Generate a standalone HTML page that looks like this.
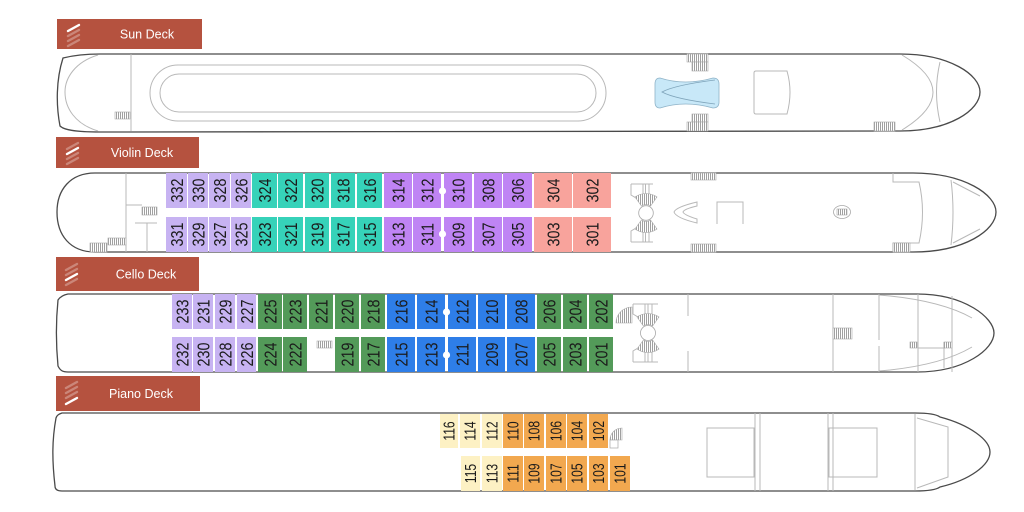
<!DOCTYPE html>
<html><head><meta charset="utf-8"><style>
html,body{margin:0;padding:0;background:#fff;}
svg{display:block;}
.n{font-family:"Liberation Sans",Arial,sans-serif;font-size:17.5px;text-anchor:middle;fill:#1b1b1b;}
.p{font-family:"Liberation Sans",Arial,sans-serif;font-size:15.5px;text-anchor:middle;fill:#1b1b1b;}
.lb{font-family:"Liberation Sans",Arial,sans-serif;font-size:12.5px;text-anchor:middle;fill:#fff;}
.hull{fill:#fff;stroke:#4a4a4a;stroke-width:1.3;}
.hull2{fill:none;stroke:#4a4a4a;stroke-width:1.3;}
.ln{fill:none;stroke:#b8b8b8;stroke-width:1;}
.st{fill:url(#hatch);stroke:#a8a8a8;stroke-width:.6;}
.L{fill:#c7b3f2}.T{fill:#36d2b9}.P{fill:#bf84f4}.S{fill:#f8a39c}.G{fill:#539a59}.B{fill:#2e7ee8}.Y{fill:#fdf1c4}.O{fill:#f2a84f}
</style></head><body>
<svg width="1024" height="512" viewBox="0 0 1024 512" xmlns="http://www.w3.org/2000/svg">
<defs>
<pattern id="hatch" width="2" height="2" patternUnits="userSpaceOnUse"><rect width="2" height="2" fill="#fff"/><rect width="1" height="2" fill="#a0a0a0"/></pattern>
</defs>

<!-- ===== LABELS ===== -->
<g>
<rect x="57" y="19" width="145" height="30" fill="#b5523f"/>
<g stroke-linecap="round" stroke-width="2.4">
<line x1="68" y1="31" x2="79" y2="25" stroke="#fff"/>
<line x1="68" y1="36" x2="79" y2="30" stroke="rgba(255,255,255,.3)"/>
<line x1="68" y1="41" x2="79" y2="35" stroke="rgba(255,255,255,.3)"/>
<line x1="68" y1="46" x2="79" y2="40" stroke="rgba(255,255,255,.3)"/>
</g>
<text class="lb" x="147" y="38.5">Sun Deck</text>

<rect x="56" y="137" width="143" height="31" fill="#b5523f"/>
<g stroke-linecap="round" stroke-width="2.4">
<line x1="67" y1="149" x2="78" y2="143" stroke="rgba(255,255,255,.3)"/>
<line x1="67" y1="154" x2="78" y2="148" stroke="#fff"/>
<line x1="67" y1="159" x2="78" y2="153" stroke="rgba(255,255,255,.3)"/>
<line x1="67" y1="164" x2="78" y2="158" stroke="rgba(255,255,255,.3)"/>
</g>
<text class="lb" x="142" y="157">Violin Deck</text>

<rect x="56" y="257" width="143" height="34" fill="#b5523f"/>
<g stroke-linecap="round" stroke-width="2.4">
<line x1="66" y1="270" x2="77" y2="264" stroke="rgba(255,255,255,.3)"/>
<line x1="66" y1="275" x2="77" y2="269" stroke="rgba(255,255,255,.3)"/>
<line x1="66" y1="280" x2="77" y2="274" stroke="#fff"/>
<line x1="66" y1="285" x2="77" y2="279" stroke="rgba(255,255,255,.3)"/>
</g>
<text class="lb" x="146" y="278.5">Cello Deck</text>

<rect x="56" y="376" width="144" height="35" fill="#b5523f"/>
<g stroke-linecap="round" stroke-width="2.4">
<line x1="66" y1="388" x2="77" y2="382" stroke="rgba(255,255,255,.3)"/>
<line x1="66" y1="393" x2="77" y2="387" stroke="rgba(255,255,255,.3)"/>
<line x1="66" y1="398" x2="77" y2="392" stroke="rgba(255,255,255,.3)"/>
<line x1="66" y1="404" x2="77" y2="398" stroke="#fff"/>
</g>
<text class="lb" x="141" y="398">Piano Deck</text>
</g>

<!-- ===== SUN DECK ===== -->
<path class="hull" d="M100 54 L900 54 C950 54 980 75 980 92 C980 110 950 131 900 131 L100 132 C75 132 64 130 60 126 C56 105 56 80 63 58 C75 55 90 54 100 54 Z"/>
<path class="ln" d="M98 55 C75 62 65 78 65 92 C65 108 75 124 98 131"/>
<line class="ln" x1="131" y1="54" x2="131" y2="131"/>
<rect class="st" x="115" y="112" width="15" height="7"/>
<rect class="ln" x="150" y="65" width="456" height="56" rx="28"/>
<rect class="ln" x="160" y="74" width="436" height="38" rx="19"/>
<path d="M660 78 Q685 86 713 78 Q719 78 719 84 L719 102 Q719 108 713 108 Q685 100 660 108 Q655 108 655 102 L655 84 Q655 78 660 78 Z" fill="#c8e8f8" stroke="#8fb3c8" stroke-width=".8"/>
<path d="M715 80 Q675 85 662 92 Q675 99 715 104" fill="none" stroke="#7fa4ba" stroke-width=".8"/>
<rect class="st" x="687" y="54" width="21" height="8"/>
<rect class="st" x="692" y="62" width="16" height="9"/>
<rect class="st" x="692" y="114" width="16" height="8"/>
<rect class="st" x="687" y="122" width="21" height="9"/>
<path class="ln" d="M756 71 L787 71 Q793 92 787 114 L756 114 Q754 114 754 112 L754 73 Q754 71 756 71 Z"/>
<rect class="st" x="874" y="122" width="21" height="9"/>
<path class="ln" d="M902 55 Q964 92 902 130"/>
<path class="ln" d="M940 62 Q933 92 940 122"/>

<!-- ===== VIOLIN DECK ===== -->
<path class="hull" d="M95 173 L913 173 C965 173 996 195 996 212 C996 230 965 252 913 252 L95 252 C70 252 57 235 57 212 C57 190 70 173 95 173 Z"/>
<g>
<line class="ln" x1="126" y1="173" x2="126" y2="252"/>
<line class="ln" x1="126" y1="205" x2="142" y2="205"/>
<rect class="st" x="142" y="207" width="15" height="8"/>
<line class="ln" x1="135" y1="223" x2="157" y2="223"/>
<line class="ln" x1="147" y1="223" x2="147" y2="252"/>
<rect class="st" x="108" y="238" width="18" height="7"/>
<rect class="st" x="90" y="243" width="17" height="9"/>
</g>
<g>
<rect class="L" x="166" y="173" width="21" height="35"/><rect class="L" x="188" y="173" width="20" height="35"/><rect class="L" x="209" y="173" width="21" height="35"/><rect class="L" x="231" y="173" width="20" height="35"/>
<rect class="T" x="252" y="173" width="25" height="35"/><rect class="T" x="278" y="173" width="25" height="35"/><rect class="T" x="305" y="173" width="24" height="35"/><rect class="T" x="331" y="173" width="24" height="35"/><rect class="T" x="357" y="173" width="25" height="35"/>
<rect class="P" x="384" y="173" width="28" height="35"/><rect class="P" x="413" y="173" width="28" height="35"/><rect class="P" x="444" y="173" width="28" height="35"/><rect class="P" x="474" y="173" width="28" height="35"/><rect class="P" x="503" y="173" width="29" height="35"/>
<rect class="S" x="534" y="173" width="38" height="35"/><rect class="S" x="573" y="173" width="38" height="35"/>
<rect class="L" x="166" y="217" width="21" height="35"/><rect class="L" x="188" y="217" width="20" height="35"/><rect class="L" x="209" y="217" width="21" height="35"/><rect class="L" x="231" y="217" width="20" height="35"/>
<rect class="T" x="252" y="217" width="25" height="35"/><rect class="T" x="278" y="217" width="25" height="35"/><rect class="T" x="305" y="217" width="24" height="35"/><rect class="T" x="331" y="217" width="24" height="35"/><rect class="T" x="357" y="217" width="25" height="35"/>
<rect class="P" x="384" y="217" width="28" height="35"/><rect class="P" x="413" y="217" width="28" height="35"/><rect class="P" x="444" y="217" width="28" height="35"/><rect class="P" x="474" y="217" width="28" height="35"/><rect class="P" x="503" y="217" width="29" height="35"/>
<rect class="S" x="534" y="217" width="38" height="35"/><rect class="S" x="573" y="217" width="38" height="35"/>
<circle cx="442.5" cy="191" r="3.6" fill="#fff"/><circle cx="442.5" cy="234" r="3.6" fill="#fff"/>
</g>
<g>
<text class="n" transform="translate(176.5,190.5) rotate(-90) scale(0.82,1)" y="6.3">332</text>
<text class="n" transform="translate(198,190.5) rotate(-90) scale(0.82,1)" y="6.3">330</text>
<text class="n" transform="translate(219.5,190.5) rotate(-90) scale(0.82,1)" y="6.3">328</text>
<text class="n" transform="translate(241,190.5) rotate(-90) scale(0.82,1)" y="6.3">326</text>
<text class="n" transform="translate(264.5,190.5) rotate(-90) scale(0.82,1)" y="6.3">324</text>
<text class="n" transform="translate(290.5,190.5) rotate(-90) scale(0.82,1)" y="6.3">322</text>
<text class="n" transform="translate(317,190.5) rotate(-90) scale(0.82,1)" y="6.3">320</text>
<text class="n" transform="translate(343,190.5) rotate(-90) scale(0.82,1)" y="6.3">318</text>
<text class="n" transform="translate(369.5,190.5) rotate(-90) scale(0.82,1)" y="6.3">316</text>
<text class="n" transform="translate(398,190.5) rotate(-90) scale(0.82,1)" y="6.3">314</text>
<text class="n" transform="translate(427,190.5) rotate(-90) scale(0.82,1)" y="6.3">312</text>
<text class="n" transform="translate(458,190.5) rotate(-90) scale(0.82,1)" y="6.3">310</text>
<text class="n" transform="translate(488,190.5) rotate(-90) scale(0.82,1)" y="6.3">308</text>
<text class="n" transform="translate(517.5,190.5) rotate(-90) scale(0.82,1)" y="6.3">306</text>
<text class="n" transform="translate(553,190.5) rotate(-90) scale(0.82,1)" y="6.3">304</text>
<text class="n" transform="translate(592,190.5) rotate(-90) scale(0.82,1)" y="6.3">302</text>
<text class="n" transform="translate(176.5,234.5) rotate(-90) scale(0.82,1)" y="6.3">331</text>
<text class="n" transform="translate(198,234.5) rotate(-90) scale(0.82,1)" y="6.3">329</text>
<text class="n" transform="translate(219.5,234.5) rotate(-90) scale(0.82,1)" y="6.3">327</text>
<text class="n" transform="translate(241,234.5) rotate(-90) scale(0.82,1)" y="6.3">325</text>
<text class="n" transform="translate(264.5,234.5) rotate(-90) scale(0.82,1)" y="6.3">323</text>
<text class="n" transform="translate(290.5,234.5) rotate(-90) scale(0.82,1)" y="6.3">321</text>
<text class="n" transform="translate(317,234.5) rotate(-90) scale(0.82,1)" y="6.3">319</text>
<text class="n" transform="translate(343,234.5) rotate(-90) scale(0.82,1)" y="6.3">317</text>
<text class="n" transform="translate(369.5,234.5) rotate(-90) scale(0.82,1)" y="6.3">315</text>
<text class="n" transform="translate(398,234.5) rotate(-90) scale(0.82,1)" y="6.3">313</text>
<text class="n" transform="translate(427,234.5) rotate(-90) scale(0.82,1)" y="6.3">311</text>
<text class="n" transform="translate(458,234.5) rotate(-90) scale(0.82,1)" y="6.3">309</text>
<text class="n" transform="translate(488,234.5) rotate(-90) scale(0.82,1)" y="6.3">307</text>
<text class="n" transform="translate(517.5,234.5) rotate(-90) scale(0.82,1)" y="6.3">305</text>
<text class="n" transform="translate(553,234.5) rotate(-90) scale(0.82,1)" y="6.3">303</text>
<text class="n" transform="translate(592,234.5) rotate(-90) scale(0.82,1)" y="6.3">301</text>
</g>
<!-- violin fwd structure -->
<g>
<path class="ln" d="M631 184 H653 M631 184 V195 L636 198 M643 184 V198 M645.5 184 V198 M649 184 V198"/>
<path class="ln" d="M631 242 H653 M631 242 V231 L636 228 M643 242 V228 M645.5 242 V228 M649 242 V228"/>
<path d="M635 197 A19 19 0 0 1 657 197 L650.6 206 A8 8 0 0 0 641.4 206 Z" fill="url(#hatch)" stroke="#a8a8a8" stroke-width=".6"/>
<path d="M635 229 A19 19 0 0 0 657 229 L650.6 220 A8 8 0 0 1 641.4 220 Z" fill="url(#hatch)" stroke="#a8a8a8" stroke-width=".6"/>
<circle cx="646" cy="213" r="7.3" fill="#fff" stroke="#a8a8a8" stroke-width=".8"/>
<path class="ln" d="M697 202 Q676 207 674 212 Q676 218 697 223 L697 219 Q684 215 683 212 Q684 209 697 206 Z"/>
<path class="ln" d="M717 224 V202 H743 V224"/>
<rect class="st" x="691" y="173" width="25" height="7"/>
<rect class="st" x="691" y="244" width="25" height="8"/>
<ellipse cx="842" cy="212" rx="8.5" ry="6.5" fill="#fff" stroke="#a8a8a8" stroke-width=".8"/>
<rect class="st" x="837" y="209" width="10" height="6"/>
<path class="ln" d="M893 173 V182 H919 Q926 212 919 243 H893 V252"/>
<rect class="st" x="893" y="243" width="17" height="9"/>
<path class="ln" d="M951 180 Q955 212 951 245 M953 182 L980 196 M953 243 L980 229"/>
</g>

<!-- ===== CELLO DECK ===== -->
<path class="hull" d="M68 294 L917 294 C965 294 994 318 994 333 C994 349 965 372 917 372 L68 372 C62 372 60 370 58 366 C56 345 56 320 58 300 C60 297 63 295 68 294 Z"/>
<g>
<rect class="L" x="172" y="294" width="20" height="35"/><rect class="L" x="193" y="294" width="20" height="35"/><rect class="L" x="215" y="294" width="20" height="35"/><rect class="L" x="237" y="294" width="19" height="35"/>
<rect class="G" x="258" y="294" width="24" height="35"/><rect class="G" x="283" y="294" width="24" height="35"/><rect class="G" x="309" y="294" width="24" height="35"/><rect class="G" x="335" y="294" width="24" height="35"/><rect class="G" x="361" y="294" width="24" height="35"/>
<rect class="B" x="387" y="294" width="28" height="35"/><rect class="B" x="417" y="294" width="28" height="35"/><rect class="B" x="448" y="294" width="28" height="35"/><rect class="B" x="478" y="294" width="27" height="35"/><rect class="B" x="507" y="294" width="28" height="35"/>
<rect class="G" x="537" y="294" width="24" height="35"/><rect class="G" x="563" y="294" width="24" height="35"/><rect class="G" x="589" y="294" width="24" height="35"/>
<rect class="L" x="172" y="337" width="20" height="35"/><rect class="L" x="193" y="337" width="20" height="35"/><rect class="L" x="215" y="337" width="20" height="35"/><rect class="L" x="237" y="337" width="19" height="35"/>
<rect class="G" x="258" y="337" width="24" height="35"/><rect class="G" x="283" y="337" width="24" height="35"/><rect class="G" x="335" y="337" width="24" height="35"/><rect class="G" x="361" y="337" width="24" height="35"/>
<rect class="B" x="387" y="337" width="28" height="35"/><rect class="B" x="417" y="337" width="28" height="35"/><rect class="B" x="448" y="337" width="28" height="35"/><rect class="B" x="478" y="337" width="27" height="35"/><rect class="B" x="507" y="337" width="28" height="35"/>
<rect class="G" x="537" y="337" width="24" height="35"/><rect class="G" x="563" y="337" width="24" height="35"/><rect class="G" x="589" y="337" width="24" height="35"/>
<circle cx="446.5" cy="312" r="3.6" fill="#fff"/><circle cx="446.5" cy="355" r="3.6" fill="#fff"/>
<rect class="st" x="317" y="341" width="15" height="7"/>
</g>
<g>
<text class="n" transform="translate(182,311.5) rotate(-90) scale(0.82,1)" y="6.3">233</text>
<text class="n" transform="translate(203,311.5) rotate(-90) scale(0.82,1)" y="6.3">231</text>
<text class="n" transform="translate(225,311.5) rotate(-90) scale(0.82,1)" y="6.3">229</text>
<text class="n" transform="translate(246.5,311.5) rotate(-90) scale(0.82,1)" y="6.3">227</text>
<text class="n" transform="translate(270,311.5) rotate(-90) scale(0.82,1)" y="6.3">225</text>
<text class="n" transform="translate(295,311.5) rotate(-90) scale(0.82,1)" y="6.3">223</text>
<text class="n" transform="translate(321,311.5) rotate(-90) scale(0.82,1)" y="6.3">221</text>
<text class="n" transform="translate(347,311.5) rotate(-90) scale(0.82,1)" y="6.3">220</text>
<text class="n" transform="translate(373,311.5) rotate(-90) scale(0.82,1)" y="6.3">218</text>
<text class="n" transform="translate(401,311.5) rotate(-90) scale(0.82,1)" y="6.3">216</text>
<text class="n" transform="translate(431,311.5) rotate(-90) scale(0.82,1)" y="6.3">214</text>
<text class="n" transform="translate(462,311.5) rotate(-90) scale(0.82,1)" y="6.3">212</text>
<text class="n" transform="translate(491.5,311.5) rotate(-90) scale(0.82,1)" y="6.3">210</text>
<text class="n" transform="translate(521,311.5) rotate(-90) scale(0.82,1)" y="6.3">208</text>
<text class="n" transform="translate(549,311.5) rotate(-90) scale(0.82,1)" y="6.3">206</text>
<text class="n" transform="translate(575,311.5) rotate(-90) scale(0.82,1)" y="6.3">204</text>
<text class="n" transform="translate(601,311.5) rotate(-90) scale(0.82,1)" y="6.3">202</text>
<text class="n" transform="translate(182,354.5) rotate(-90) scale(0.82,1)" y="6.3">232</text>
<text class="n" transform="translate(203,354.5) rotate(-90) scale(0.82,1)" y="6.3">230</text>
<text class="n" transform="translate(225,354.5) rotate(-90) scale(0.82,1)" y="6.3">228</text>
<text class="n" transform="translate(246.5,354.5) rotate(-90) scale(0.82,1)" y="6.3">226</text>
<text class="n" transform="translate(270,354.5) rotate(-90) scale(0.82,1)" y="6.3">224</text>
<text class="n" transform="translate(295,354.5) rotate(-90) scale(0.82,1)" y="6.3">222</text>
<text class="n" transform="translate(347,354.5) rotate(-90) scale(0.82,1)" y="6.3">219</text>
<text class="n" transform="translate(373,354.5) rotate(-90) scale(0.82,1)" y="6.3">217</text>
<text class="n" transform="translate(401,354.5) rotate(-90) scale(0.82,1)" y="6.3">215</text>
<text class="n" transform="translate(431,354.5) rotate(-90) scale(0.82,1)" y="6.3">213</text>
<text class="n" transform="translate(462,354.5) rotate(-90) scale(0.82,1)" y="6.3">211</text>
<text class="n" transform="translate(491.5,354.5) rotate(-90) scale(0.82,1)" y="6.3">209</text>
<text class="n" transform="translate(521,354.5) rotate(-90) scale(0.82,1)" y="6.3">207</text>
<text class="n" transform="translate(549,354.5) rotate(-90) scale(0.82,1)" y="6.3">205</text>
<text class="n" transform="translate(575,354.5) rotate(-90) scale(0.82,1)" y="6.3">203</text>
<text class="n" transform="translate(601,354.5) rotate(-90) scale(0.82,1)" y="6.3">201</text>
</g>
<!-- cello fwd structure -->
<g>
<path d="M616 323 A16 16 0 0 1 632 307 L632 323 Z" fill="url(#hatch)" stroke="#a8a8a8" stroke-width=".6"/>
<path class="ln" d="M633 304 H658 M633 304 V314 L638 317 M645 304 V318 M648 304 V318 M652 304 V318"/>
<path class="ln" d="M633 362 H658 M633 362 V351 L638 348 M645 362 V348 M648 362 V348 M652 362 V348"/>
<path d="M637 317 A19 19 0 0 1 659 317 L652.6 326 A8 8 0 0 0 643.4 326 Z" fill="url(#hatch)" stroke="#a8a8a8" stroke-width=".6"/>
<path d="M637 349 A19 19 0 0 0 659 349 L652.6 340 A8 8 0 0 1 643.4 340 Z" fill="url(#hatch)" stroke="#a8a8a8" stroke-width=".6"/>
<circle cx="648" cy="333" r="7.5" fill="#fff" stroke="#a8a8a8" stroke-width=".8"/>
<path class="ln" d="M688 294 V316 M688 351 V372 M833 294 V372 M879 294 V340 M879 346 V372 M918 294 V372 M952 296 V372"/>
<rect class="st" x="833" y="328" width="19" height="11"/>
<path class="ln" d="M879 295 Q940 300 972 318 M879 371 Q940 366 972 347"/>
<rect class="st" x="910" y="342" width="7" height="6"/>
<path class="ln" d="M918 348 H945 M944 342 V368"/>
<rect class="st" x="944" y="342" width="8" height="6"/>
</g>

<!-- ===== PIANO DECK ===== -->
<path class="hull" d="M62 413 L915 413 C928 413 936 414 940 417 C970 425 990 440 990 452 C990 465 970 480 940 487 C936 490 928 491 915 491 L62 491 C57 491 55 489 55 486 C52 460 52 440 56 418 C57 415 59 414 62 413 Z"/>
<g>
<rect class="Y" x="440" y="414" width="18" height="34"/><rect class="Y" x="460" y="414" width="20" height="34"/><rect class="Y" x="482" y="414" width="20" height="34"/>
<rect class="O" x="503" y="414" width="20" height="34"/><rect class="O" x="524" y="414" width="20" height="34"/><rect class="O" x="546" y="414" width="20" height="34"/><rect class="O" x="567" y="414" width="20" height="34"/><rect class="O" x="589" y="414" width="19" height="34"/>
<rect class="Y" x="461" y="456" width="19" height="35"/><rect class="Y" x="482" y="456" width="20" height="35"/>
<rect class="O" x="503" y="456" width="20" height="35"/><rect class="O" x="524" y="456" width="20" height="35"/><rect class="O" x="546" y="456" width="20" height="35"/><rect class="O" x="567" y="456" width="20" height="35"/><rect class="O" x="589" y="456" width="19" height="35"/><rect class="O" x="610" y="456" width="20" height="35"/>
</g>
<g>
<text class="p" transform="translate(449,431) rotate(-90) scale(0.78,1)" y="5.5">116</text>
<text class="p" transform="translate(470,431) rotate(-90) scale(0.78,1)" y="5.5">114</text>
<text class="p" transform="translate(492,431) rotate(-90) scale(0.78,1)" y="5.5">112</text>
<text class="p" transform="translate(513,431) rotate(-90) scale(0.78,1)" y="5.5">110</text>
<text class="p" transform="translate(534,431) rotate(-90) scale(0.78,1)" y="5.5">108</text>
<text class="p" transform="translate(556,431) rotate(-90) scale(0.78,1)" y="5.5">106</text>
<text class="p" transform="translate(577,431) rotate(-90) scale(0.78,1)" y="5.5">104</text>
<text class="p" transform="translate(598.5,431) rotate(-90) scale(0.78,1)" y="5.5">102</text>
<text class="p" transform="translate(470.5,473.5) rotate(-90) scale(0.78,1)" y="5.5">115</text>
<text class="p" transform="translate(492,473.5) rotate(-90) scale(0.78,1)" y="5.5">113</text>
<text class="p" transform="translate(513,473.5) rotate(-90) scale(0.78,1)" y="5.5">111</text>
<text class="p" transform="translate(534,473.5) rotate(-90) scale(0.78,1)" y="5.5">109</text>
<text class="p" transform="translate(556,473.5) rotate(-90) scale(0.78,1)" y="5.5">107</text>
<text class="p" transform="translate(577,473.5) rotate(-90) scale(0.78,1)" y="5.5">105</text>
<text class="p" transform="translate(598.5,473.5) rotate(-90) scale(0.78,1)" y="5.5">103</text>
<text class="p" transform="translate(620,473.5) rotate(-90) scale(0.78,1)" y="5.5">101</text>
</g>
<g>
<path d="M610 439 A12 12 0 0 1 622 427 L622 439 Z" fill="url(#hatch)" stroke="#a8a8a8" stroke-width=".6" transform="translate(0,1)"/>
<rect x="610" y="440" width="8" height="8" fill="#fff" stroke="#a8a8a8" stroke-width=".7"/>
<rect class="ln" x="707" y="428" width="47" height="49"/>
<rect class="ln" x="829" y="428" width="48" height="49"/>
<path class="ln" d="M755 413 V491 M760 413 V491 M828 413 V491 M833 413 V491"/>
<path class="ln" d="M915 414 V490 M917 418 L948 427 V477 L917 488"/>
</g>
</svg>
</body></html>
